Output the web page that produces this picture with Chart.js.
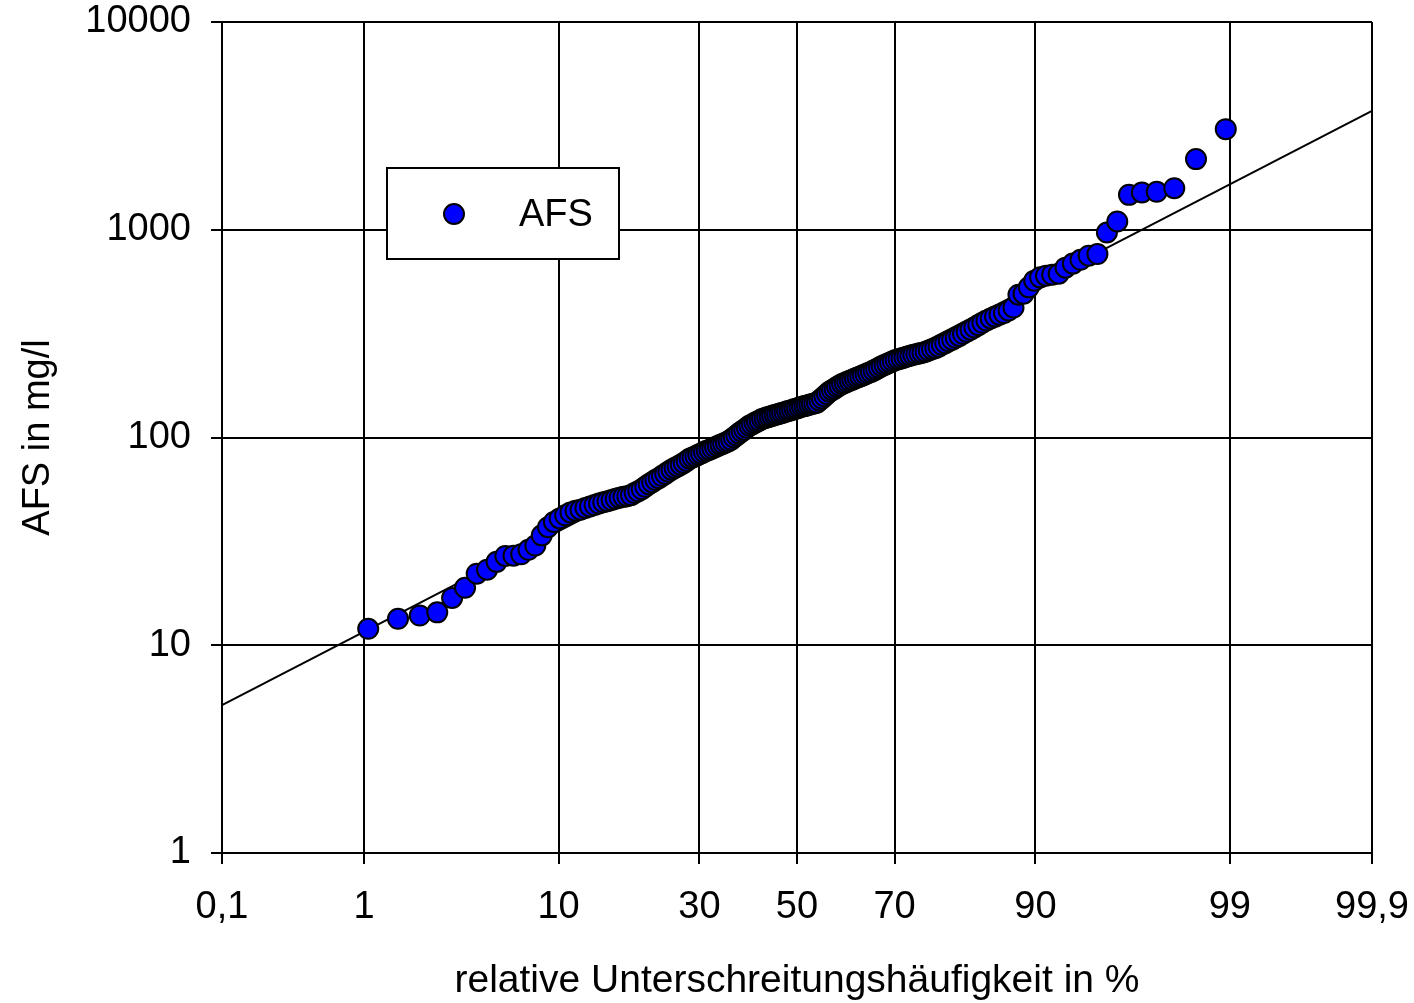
<!DOCTYPE html>
<html>
<head>
<meta charset="utf-8">
<script src="https://cdn.jsdelivr.net/npm/chart.js@4.4.1/dist/chart.umd.min.js"></script>
<style>
  html, body { margin: 0; padding: 0; background: #fff; }
  #wrap { width: 1414px; height: 1003px; }
</style>
</head>
<body>
<div id="wrap"><canvas id="probChart" width="1414" height="1003"></canvas></div>
<script>
// Unterschreitungshaeufigkeit in % (x) und AFS in mg/l (y)
const xPct = [
  1.06, 1.60, 2.13, 2.66, 3.19, 3.72, 4.26, 4.79, 5.32, 5.85, 6.38, 6.91, 7.45, 7.98, 8.51, 9.04, 9.57, 10.11,
  10.64, 11.17, 11.70, 12.23, 12.77, 13.30, 13.83, 14.36, 14.89, 15.43, 15.96, 16.49, 17.02, 17.55, 18.09, 18.62,
  19.15, 19.68, 20.21, 20.74, 21.28, 21.81, 22.34, 22.87, 23.40, 23.94, 24.47, 25.00, 25.53, 26.06, 26.60,
  27.13, 27.66, 28.19, 28.72, 29.26, 29.79, 30.32, 30.85, 31.38, 31.91, 32.45, 32.98, 33.51, 34.04, 34.57,
  35.11, 35.64, 36.17, 36.70, 37.23, 37.77, 38.30, 38.83, 39.36, 39.89, 40.43, 40.96, 41.49, 42.02, 42.55,
  43.09, 43.62, 44.15, 44.68, 45.21, 45.74, 46.28, 46.81, 47.34, 47.87, 48.40, 48.94, 49.47, 50.00, 50.53,
  51.06, 51.60, 52.13, 52.66, 53.19, 53.72, 54.26, 54.79, 55.32, 55.85, 56.38, 56.91, 57.45, 57.98, 58.51,
  59.04, 59.57, 60.11, 60.64, 61.17, 61.70, 62.23, 62.77, 63.30, 63.83, 64.36, 64.89, 65.43, 65.96, 66.49,
  67.02, 67.55, 68.09, 68.62, 69.15, 69.68, 70.21, 70.74, 71.28, 71.81, 72.34, 72.87, 73.40, 73.94, 74.47,
  75.00, 75.53, 76.06, 76.60, 77.13, 77.66, 78.19, 78.72, 79.26, 79.79, 80.32, 80.85, 81.38, 81.91, 82.45,
  82.98, 83.51, 84.04, 84.57, 85.11, 85.64, 86.17, 86.70, 87.23, 87.77, 88.30, 88.83, 89.36, 89.89, 90.43,
  90.96, 91.49, 92.02, 92.55, 93.09, 93.62, 94.15, 94.68, 95.21, 95.74, 96.28, 96.81, 97.34, 97.87, 98.40, 98.94
];
const afsVal = [
  12.0, 13.4, 13.9, 14.4, 16.9, 18.9, 22.1, 23.1, 25.2, 26.9, 27.0, 27.4, 28.8, 30.2, 33.8, 37.0, 39.2, 40.8,
  42.2, 43.6, 44.4, 44.9, 45.8, 46.6, 47.3, 48.1, 48.8, 49.4, 50.0, 50.7, 51.3, 51.8, 52.2, 52.8,
  54.0, 55.1, 56.4, 57.9, 59.6, 60.9, 62.4, 63.7, 65.2, 66.8, 68.5, 70.0, 71.3, 72.6, 74.0,
  75.4, 77.1, 79.1, 80.2, 81.3, 82.6, 83.8, 85.1, 86.3, 87.3, 88.5, 89.7, 91.0, 92.3, 93.3,
  94.6, 95.9, 97.7, 100, 102.3, 104.7, 106.9, 109.1, 111.4, 113.8, 115.6, 117.5, 119.1, 120.8, 122.7,
  123.9, 125.0, 125.9, 127.1, 128.2, 129.1, 130.3, 131.2, 132.4, 133.7, 134.6, 135.8, 137.1, 138.0, 139.3,
  140.6, 141.6, 142.6, 143.9, 144.9, 145.9, 147.2, 150.7, 154.2, 157.8, 161.8, 166.0, 169.0, 171.8, 175.0,
  177.8, 181.1, 183.2, 185.4, 187.5, 189.7, 192.3, 194.5, 196.8, 199.1, 201.4, 204.2, 206.5, 209.9, 213.3,
  216.8, 220.3, 223.4, 226.5, 229.6, 232.8, 236.0, 238.2, 240.4, 242.7, 245.5, 247.7, 250.0, 251.8, 254.1,
  255.9, 258.8, 262.4, 266.1, 269.2, 273.5, 279.3, 284.4, 290.4, 295.8, 302.0, 308.3, 315.5, 322.8, 330.4,
  338.8, 347.5, 356.5, 365.6, 374.1, 381.9, 389.9, 397.2, 408.3, 422, 487, 492, 528, 569, 590,
  601, 608, 614, 657, 687, 717, 750, 764, 970, 1096, 1472, 1511, 1523, 1585, 2188, 3050
];
// Ausgleichsgerade (Lognormalverteilung), Endpunkte
const fitPct = [0.1, 99.9];
const fitVal = [5.15, 3730];
// Achsenbeschriftung
const tickPct = [0.1, 1, 10, 30, 50, 70, 90, 99, 99.9];
const tickLbl = ['0,1', '1', '10', '30', '50', '70', '90', '99', '99,9'];
const yTicks = [1, 10, 100, 1000, 10000];

const FONT = 'Arial, "Liberation Sans", sans-serif';
Chart.defaults.font.family = FONT;
Chart.defaults.color = '#000';

// Inverse Normalverteilung (Acklam)
function probit(p) {
  const a = [-39.69683028665376, 220.9460984245205, -275.9285104469687, 138.3577518672690, -30.66479806614716, 2.506628277459239];
  const b = [-54.47609879822406, 161.5858368580409, -155.6989798598866, 66.80131188771972, -13.28068155288572];
  const c = [-0.007784894002430293, -0.3223964580411365, -2.400758277161838, -2.549732539343734, 4.374664141464968, 2.938163982698783];
  const d = [0.007784695709041462, 0.3224671290700398, 2.445134137142996, 3.754408661907416];
  const pl = 0.02425;
  let q, r;
  if (p < pl) {
    q = Math.sqrt(-2 * Math.log(p));
    return (((((c[0] * q + c[1]) * q + c[2]) * q + c[3]) * q + c[4]) * q + c[5]) / ((((d[0] * q + d[1]) * q + d[2]) * q + d[3]) * q + 1);
  }
  if (p > 1 - pl) {
    q = Math.sqrt(-2 * Math.log(1 - p));
    return -(((((c[0] * q + c[1]) * q + c[2]) * q + c[3]) * q + c[4]) * q + c[5]) / ((((d[0] * q + d[1]) * q + d[2]) * q + d[3]) * q + 1);
  }
  q = p - 0.5; r = q * q;
  return (((((a[0] * r + a[1]) * r + a[2]) * r + a[3]) * r + a[4]) * r + a[5]) * q / (((((b[0] * r + b[1]) * r + b[2]) * r + b[3]) * r + b[4]) * r + 1);
}

// Wahrscheinlichkeitsachse als eigene Skala
const LinearScale = Chart.LinearScale || Chart.registry.getScale('linear');
class ProbitScale extends LinearScale {
  determineDataLimits() {
    this.min = tickPct[0];
    this.max = tickPct[tickPct.length - 1];
  }
  buildTicks() {
    return tickPct.map(v => ({ value: v }));
  }
  configure() {
    super.configure();
    this._z0 = probit(this.min / 100);
    this._z1 = probit(this.max / 100);
  }
  getPixelForValue(v) {
    if (v === null || v === undefined) return NaN;
    return this.getPixelForDecimal((probit(v / 100) - this._z0) / (this._z1 - this._z0));
  }
  getValueForPixel(px) {
    const z = this._z0 + this.getDecimalForPixel(px) * (this._z1 - this._z0);
    // Naeherung der Verteilungsfunktion
    const t = 1 / (1 + 0.2316419 * Math.abs(z));
    const dn = 0.3989423 * Math.exp(-z * z / 2);
    let p = dn * t * (0.3193815 + t * (-0.3565638 + t * (1.781478 + t * (-1.821256 + t * 1.330274))));
    if (z > 0) p = 1 - p;
    return p * 100;
  }
}
ProbitScale.id = 'probit';
ProbitScale.defaults = {};
Chart.register(ProbitScale);

// Legende als Kasten im Diagramm
const legendBox = {
  id: 'legendBox',
  afterDatasetsDraw(chart) {
    const { ctx, chartArea } = chart;
    const ds = chart.data.datasets[0];
    const x = chartArea.left + 165, y = chartArea.top + 146, w = 232, h = 91;
    ctx.save();
    ctx.fillStyle = '#fff';
    ctx.fillRect(x, y, w, h);
    ctx.strokeStyle = '#000';
    ctx.lineWidth = 2;
    ctx.strokeRect(x, y, w, h);
    ctx.beginPath();
    ctx.arc(x + 67, y + 46, ds.pointRadius, 0, Math.PI * 2);
    ctx.fillStyle = ds.pointBackgroundColor;
    ctx.fill();
    ctx.lineWidth = ds.pointBorderWidth;
    ctx.strokeStyle = ds.pointBorderColor;
    ctx.stroke();
    ctx.fillStyle = '#000';
    ctx.font = '38px ' + FONT;
    ctx.textBaseline = 'alphabetic';
    ctx.fillText(ds.label, x + 132, y + 58);
    ctx.restore();
  }
};

const ctx = document.getElementById('probChart').getContext('2d');
new Chart(ctx, {
  type: 'scatter',
  data: {
    datasets: [{
      type: 'scatter',
      label: 'AFS',
      data: xPct.map((p, i) => ({ x: p, y: afsVal[i] })),
      pointBackgroundColor: '#0000ff',
      pointBorderColor: '#000',
      pointBorderWidth: 2,
      pointRadius: 10,
      backgroundColor: '#0000ff',
      borderColor: '#000',
      order: 0
    }, {
      type: 'line',
      label: 'Ausgleichsgerade',
      data: fitPct.map((p, i) => ({ x: p, y: fitVal[i] })),
      borderColor: '#000',
      borderWidth: 2,
      pointRadius: 0,
      fill: false,
      tension: 0,
      order: 1
    }]
  },
  options: {
    responsive: false,
    animation: false,
    devicePixelRatio: 1,
    events: [],
    layout: { padding: { top: 22, right: 42, left: 0, bottom: 0 } },
    plugins: {
      legend: { display: false },
      tooltip: { enabled: false }
    },
    scales: {
      x: {
        type: 'probit',
        position: 'bottom',
        grid: { color: '#000', lineWidth: 2, tickLength: 11, drawTicks: true },
        border: { color: '#000', width: 2 },
        ticks: {
          autoSkip: false,
          maxRotation: 0,
          padding: 25,
          color: '#000',
          font: { size: 38, lineHeight: 1 },
          callback: (v, i) => tickLbl[i]
        },
        title: {
          display: true,
          text: 'relative Unterschreitungshäufigkeit in %',
          color: '#000',
          font: { size: 39, lineHeight: 1 },
          padding: { top: 0, bottom: 2 }
        },
        afterFit: s => { s.height = 150; s.paddingLeft = 0; s.paddingRight = 0; }
      },
      y: {
        type: 'logarithmic',
        min: 1,
        max: 10000,
        grid: { color: '#000', lineWidth: 2, tickLength: 11, drawTicks: true },
        border: { color: '#000', width: 2 },
        afterBuildTicks: s => { s.ticks = yTicks.map(v => ({ value: v })); },
        ticks: {
          padding: 20,
          color: '#000',
          font: { size: 38, lineHeight: 1 },
          callback: v => String(v)
        },
        title: {
          display: true,
          text: 'AFS in mg/l',
          color: '#000',
          font: { size: 38, lineHeight: 1 },
          padding: { top: 20, bottom: 0 }
        },
        afterFit: s => { s.width = 222; s.paddingTop = 0; s.paddingBottom = 0; }
      }
    }
  },
  plugins: [legendBox]
});
</script>
</body>
</html>
